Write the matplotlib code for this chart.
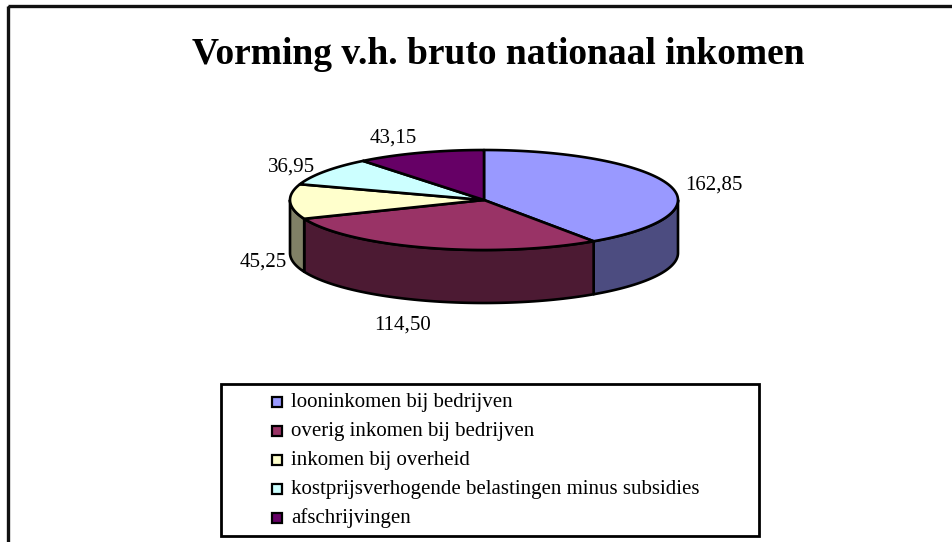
"""
plot.py - 3D-achtige taartgrafiek: vorming van het bruto nationaal inkomen
"""
import matplotlib
matplotlib.use("Agg")
import matplotlib.pyplot as plt
import numpy as np
from matplotlib.patches import Polygon, Rectangle

# Data
categories = ["looninkomen bij bedrijven",
              "overig inkomen bij bedrijven",
              "inkomen bij overheid",
              "kostprijsverhogende belastingen minus subsidies",
              "afschrijvingen"]
values = [162.85, 114.50, 45.25, 36.95, 43.15]
title = "Vorming v.h. bruto nationaal inkomen"

# Styles
top_colors = ["#9999FF", "#993366", "#FFFFCC", "#CCFFFF", "#660066"]
side_colors = ["#4C4C80", "#4C1A33", "#808066", "#668080", "#330033"]
label_xy = [(714, 190), (403, 330), (263, 267), (292, 172), (393, 143)]

SERIF = ["Liberation Serif", "DejaVu Serif"]

# Geometry of the pie in pixel coordinates
cx, cy, rx, ry, depth = 484, 200, 194, 50, 53
LW = 1.9


def arc(a0, a1, yoff=0.0, n=80):
    t = np.radians(np.linspace(a0, a1, n))
    return np.column_stack([cx + rx * np.sin(t), cy - ry * np.cos(t) + yoff])


fig = plt.figure(figsize=(9.53, 5.42), dpi=100)
ax = fig.add_axes([0, 0, 1, 1])
ax.set_xlim(0, 953)
ax.set_ylim(542, 0)
ax.axis("off")

# Frame (only top and left edge lie inside the picture)
ax.add_patch(Rectangle((8.5, 5.5), 1000, 1000, fill=False,
                       edgecolor="#111111", linewidth=2.4))

ax.text(498, 64, title, ha="center", va="baseline", fontsize=27,
        fontweight="bold", family=SERIF)

# Angles, clockwise from 12 o'clock
total = float(np.sum(values))
ends = np.cumsum(values) / total * 360.0
starts = np.concatenate([[0.0], ends[:-1]])

# Side walls (only the front half, 90..270 degrees, is visible)
for a0, a1, col in zip(starts, ends, side_colors):
    lo, hi = max(a0, 90.0), min(a1, 270.0)
    if hi <= lo:
        continue
    pts = np.vstack([arc(lo, hi), arc(hi, lo, yoff=depth)])
    ax.add_patch(Polygon(pts, closed=True, facecolor=col, edgecolor="black",
                         linewidth=LW, joinstyle="round"))

# Top faces
for a0, a1, col in zip(starts, ends, top_colors):
    pts = np.vstack([[cx, cy], arc(a0, a1)])
    ax.add_patch(Polygon(pts, closed=True, facecolor=col, edgecolor="black",
                         linewidth=LW, joinstyle="round"))

# Data labels
for v, (lx, ly) in zip(values, label_xy):
    ax.text(lx, ly, f"{v:.2f}".replace(".", ","), ha="center", va="baseline",
            fontsize=15, family=SERIF)

# Legend
ax.add_patch(Rectangle((221, 384), 538, 152, fill=False, edgecolor="black",
                       linewidth=2.0))
for i, (name, col) in enumerate(zip(categories, top_colors)):
    base = 407 + 29 * i
    ax.add_patch(Rectangle((272, base - 10), 10, 10, facecolor=col,
                           edgecolor="black", linewidth=1.6))
    ax.text(291, base, name, ha="left", va="baseline", fontsize=15,
            family=SERIF)

fig.savefig("out.png", dpi=100, facecolor="white")
